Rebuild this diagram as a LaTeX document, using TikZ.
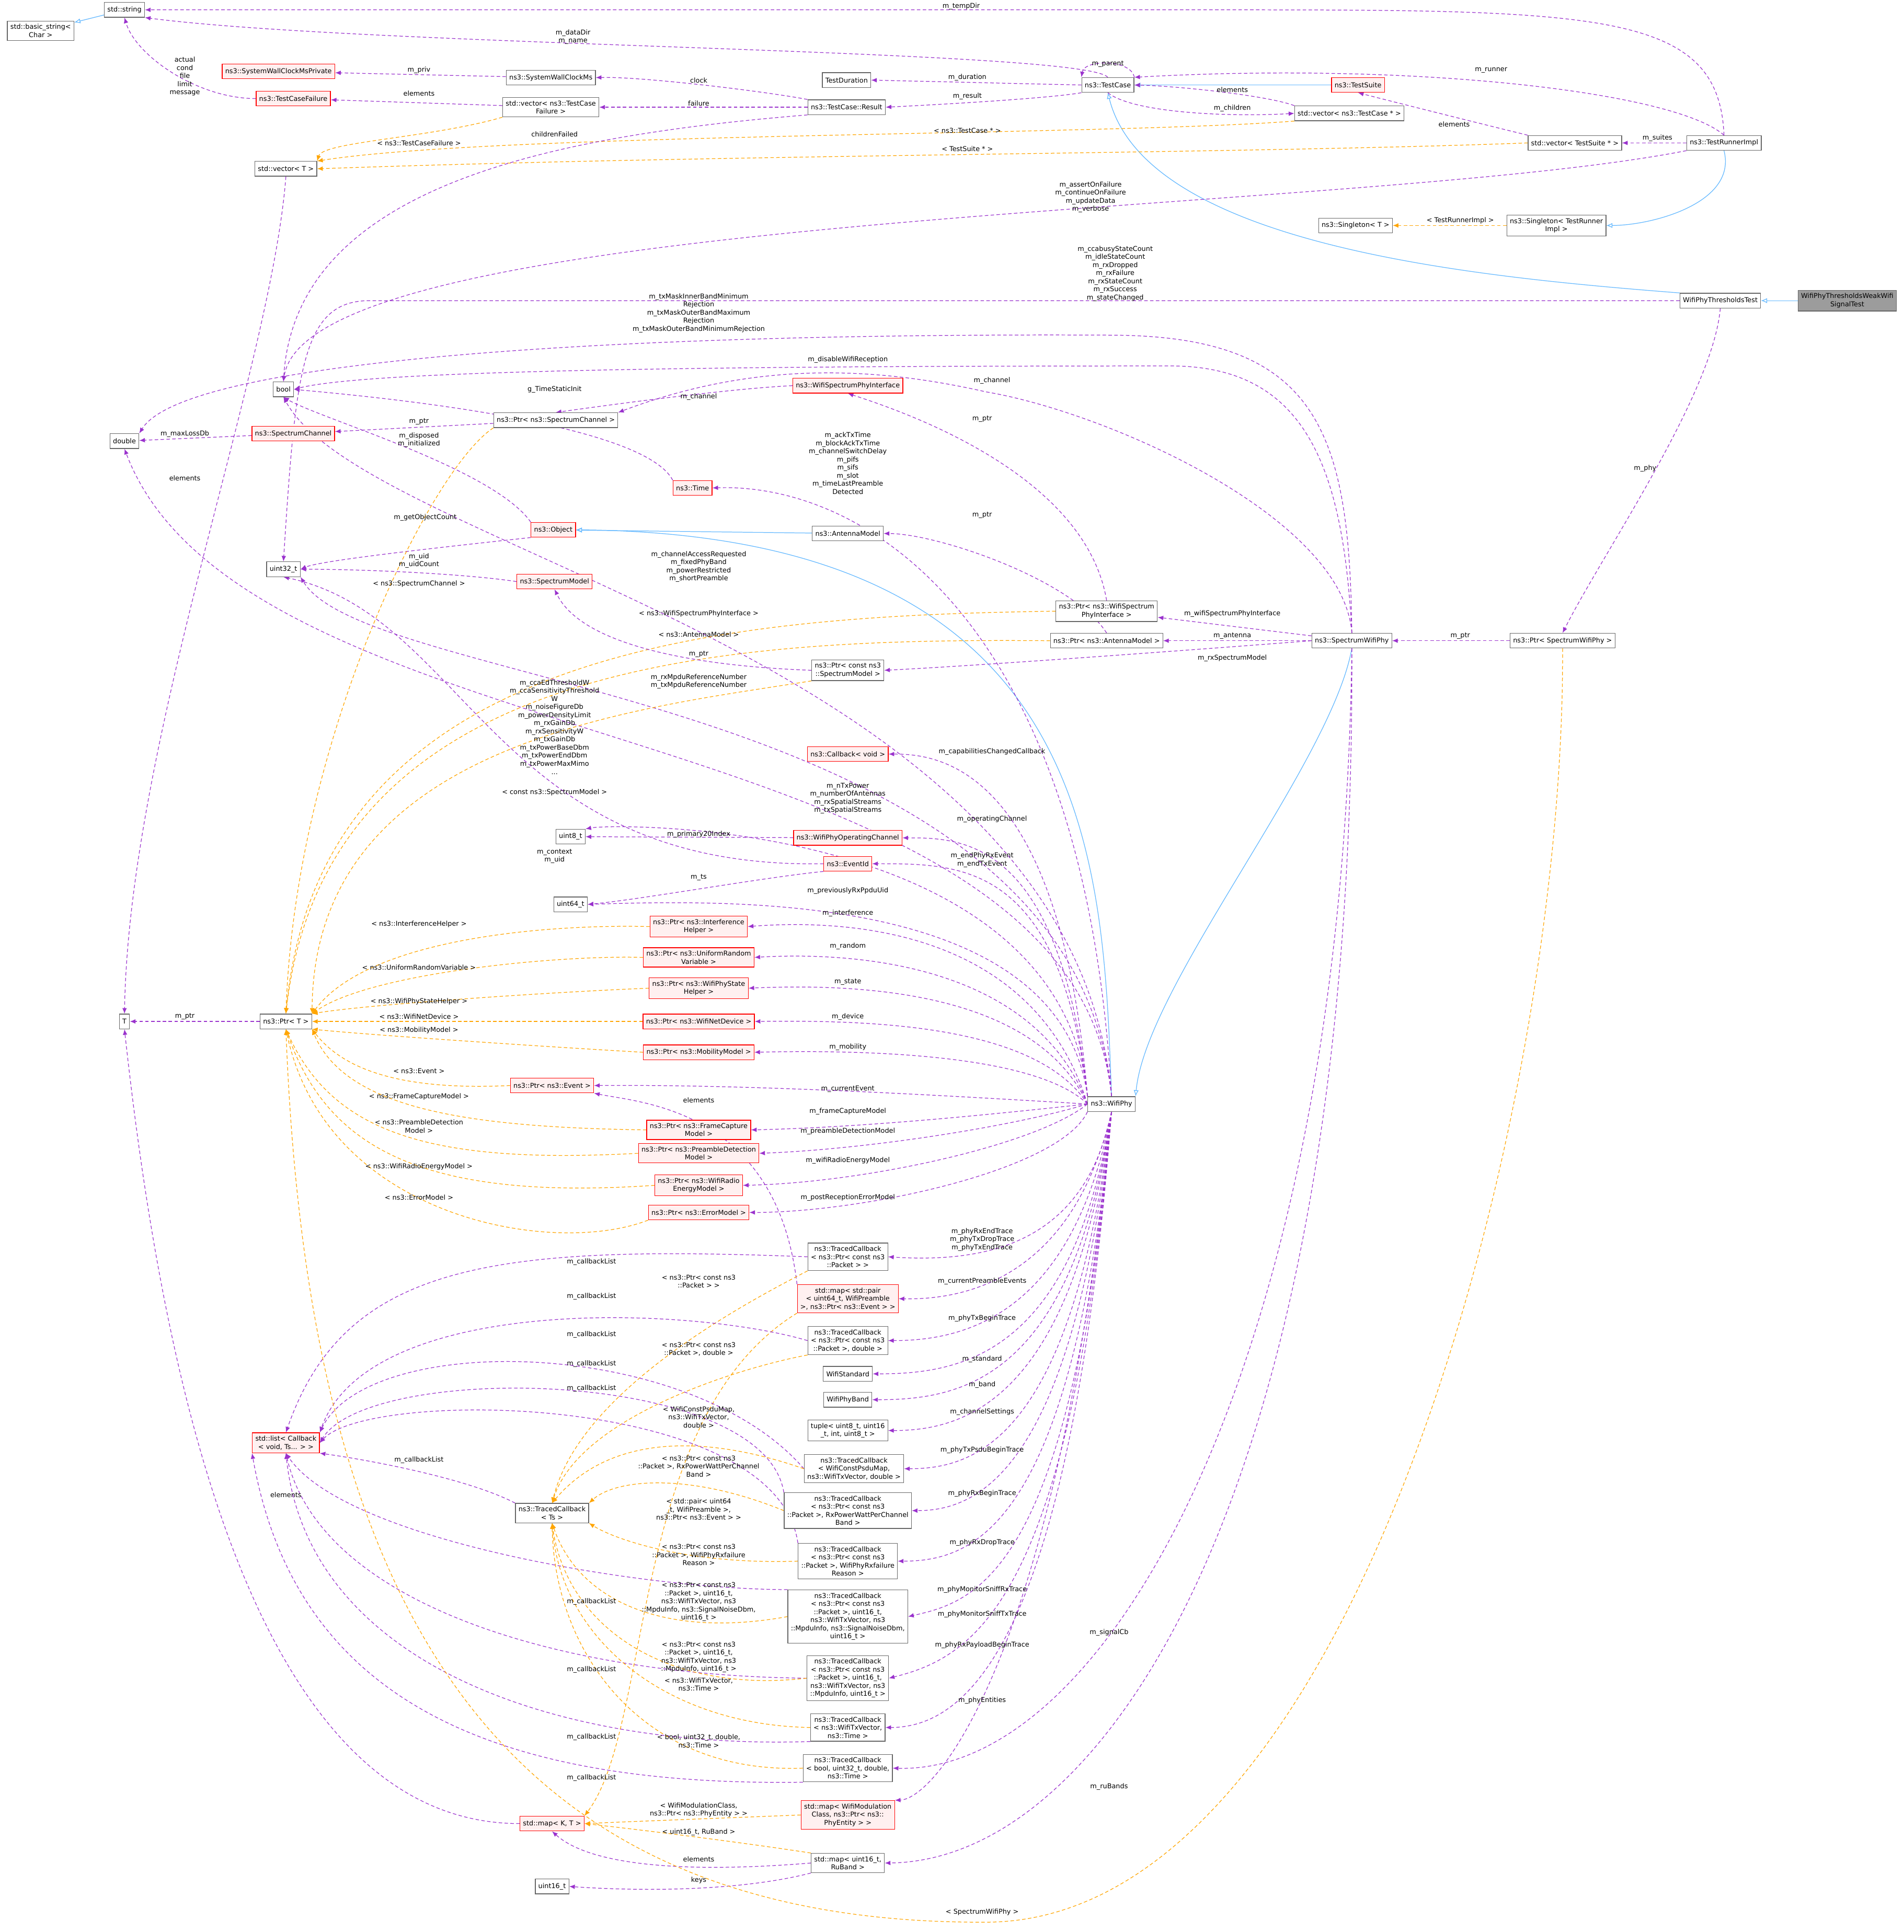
\documentclass[tikz,border=0pt]{standalone}
\usepackage{fontspec}
\setmainfont{DejaVu Sans}
\usetikzlibrary{arrows.meta}
\pgfdeclarelayer{background}
\pgfsetlayers{background,main}
\definecolor{mempurple}{HTML}{9A32CD}
\definecolor{tplorange}{HTML}{FFA500}
\definecolor{inhblue}{HTML}{63B8FF}
\definecolor{boxgray}{HTML}{666666}
\definecolor{redfill}{HTML}{FFF0F0}
\begin{document}
\begin{tikzpicture}[x=0.02cm, y=0.02cm,
    every node/.style={font=\fontsize{3.1}{3.75}\selectfont, align=center},
    cls/.style={draw=boxgray, fill=white, line width=0.3pt, inner sep=1.4pt, minimum height=0.24cm},
    redcls/.style={cls, draw=red, fill=redfill},
    lbl/.style={inner sep=0pt},
    mem/.style={draw=mempurple, line width=0.3pt, dash pattern=on 1.6pt off 1.1pt, -{Latex[length=2.6pt,width=2.1pt]}},
    tpl/.style={draw=tplorange, line width=0.3pt, dash pattern=on 1.6pt off 1.1pt, -{Latex[length=2.6pt,width=2.1pt]}},
    inh/.style={draw=inhblue, line width=0.3pt, -{Latex[open,length=2.8pt,width=2.3pt]}}]
    \useasboundingbox (0,0) rectangle (1545,-1568);

    % Classes, top part
    \node[cls] (basic) at (33,-25) {std::basic\_string<\\Char >};
    \node[cls] (str) at (101,-8) {std::string};
    \node[cls] (tcase) at (899,-69) {ns3::TestCase};
    \node[redcls] (tsuite) at (1102,-69) {ns3::TestSuite};
    \node[cls] (tdur) at (687,-65) {TestDuration};
    \node[cls] (tres) at (687,-87) {ns3::TestCase::Result};
    \node[cls] (swc) at (447,-63) {ns3::SystemWallClockMs};
    \node[redcls] (swcp) at (226,-58) {ns3::SystemWallClockMsPrivate};
    \node[redcls] (tcf) at (238,-80) {ns3::TestCaseFailure};
    \node[cls] (vtcf) at (447,-87) {std::vector< ns3::TestCase\\Failure >};
    \node[cls] (vtc) at (1095,-92) {std::vector< ns3::TestCase * >};
    \node[cls] (vt) at (232,-137) {std::vector< T >};
    \node[cls] (vts) at (1278,-116) {std::vector< TestSuite * >};
    \node[cls] (trimpl) at (1399,-116) {ns3::TestRunnerImpl};
    \node[cls] (sgt) at (1100,-183) {ns3::Singleton< T >};
    \node[cls] (sgtr) at (1263,-183) {ns3::Singleton< TestRunner\\Impl >};
    \node[cls] (thr) at (1396,-244) {WifiPhyThresholdsTest};
    \node[cls, fill=boxgray!65] (weak) at (1499,-244) {WifiPhyThresholdsWeakWifi\\SignalTest};

    % Classes, middle part
    \node[cls] (bool) at (230,-316) {bool};
    \node[cls] (dbl) at (101,-358) {double};
    \node[redcls] (spch) at (238,-352) {ns3::SpectrumChannel};
    \node[cls] (pspch) at (451,-341) {ns3::Ptr< ns3::SpectrumChannel >};
    \node[redcls] (wspi) at (688,-313) {ns3::WifiSpectrumPhyInterface};
    \node[redcls] (time) at (562,-396) {ns3::Time};
    \node[redcls] (obj) at (449,-430) {ns3::Object};
    \node[cls] (ant) at (688,-433) {ns3::AntennaModel};
    \node[cls] (u32) at (230,-462) {uint32\_t};
    \node[redcls] (spm) at (450,-472) {ns3::SpectrumModel};
    \node[cls] (pwspi) at (898,-496) {ns3::Ptr< ns3::WifiSpectrum\\PhyInterface >};
    \node[cls] (pant) at (898,-520) {ns3::Ptr< ns3::AntennaModel >};
    \node[cls] (swp) at (1097,-520) {ns3::SpectrumWifiPhy};
    \node[cls] (pswp) at (1268,-520) {ns3::Ptr< SpectrumWifiPhy >};
    \node[cls] (pcsm) at (688,-544) {ns3::Ptr< const ns3\\::SpectrumModel >};
    \node[redcls] (cbv) at (688,-612) {ns3::Callback< void >};
    \node[cls] (u8) at (463,-679) {uint8\_t};
    \node[redcls] (woc) at (688,-680) {ns3::WifiPhyOperatingChannel};
    \node[redcls] (eid) at (688,-701) {ns3::EventId};
    \node[cls] (u64) at (463,-734) {uint64\_t};
    \node[redcls] (pih) at (567,-752) {ns3::Ptr< ns3::Interference\\Helper >};
    \node[redcls] (pur) at (567,-777) {ns3::Ptr< ns3::UniformRandom\\Variable >};
    \node[redcls] (psh) at (567,-802) {ns3::Ptr< ns3::WifiPhyState\\Helper >};
    \node[redcls] (pnd) at (567,-829) {ns3::Ptr< ns3::WifiNetDevice >};
    \node[redcls] (pmob) at (567,-854) {ns3::Ptr< ns3::MobilityModel >};
    \node[cls] (tT) at (101,-829) {T};
    \node[cls] (ptrT) at (232,-829) {ns3::Ptr< T >};
    \node[redcls] (pev) at (448,-881) {ns3::Ptr< ns3::Event >};
    \node[redcls] (pfc) at (567,-917) {ns3::Ptr< ns3::FrameCapture\\Model >};
    \node[redcls] (ppd) at (567,-936) {ns3::Ptr< ns3::PreambleDetection\\Model >};
    \node[redcls] (pre) at (567,-962) {ns3::Ptr< ns3::WifiRadio\\EnergyModel >};
    \node[redcls] (pem) at (567,-984) {ns3::Ptr< ns3::ErrorModel >};
    \node[cls] (phy) at (902,-896) {ns3::WifiPhy};

    % Classes, lower part
    \node[cls] (tc1) at (688,-1020) {ns3::TracedCallback\\< ns3::Ptr< const ns3\\::Packet > >};
    \node[redcls] (mpair) at (688,-1054) {std::map< std::pair\\< uint64\_t, WifiPreamble\\>, ns3::Ptr< ns3::Event > >};
    \node[cls] (tc2) at (688,-1088) {ns3::TracedCallback\\< ns3::Ptr< const ns3\\::Packet >, double >};
    \node[cls] (wstd) at (688,-1115) {WifiStandard};
    \node[cls] (wband) at (688,-1136) {WifiPhyBand};
    \node[cls] (tup) at (688,-1161) {tuple< uint8\_t, uint16\\\_t, int, uint8\_t >};
    \node[cls] (tc3) at (693,-1192) {ns3::TracedCallback\\< WifiConstPsduMap,\\ns3::WifiTxVector, double >};
    \node[cls] (tc4) at (688,-1226) {ns3::TracedCallback\\< ns3::Ptr< const ns3\\::Packet >, RxPowerWattPerChannel\\Band >};
    \node[cls] (tc5) at (688,-1267) {ns3::TracedCallback\\< ns3::Ptr< const ns3\\::Packet >, WifiPhyRxfailure\\Reason >};
    \node[redcls] (slist) at (232,-1171) {std::list< Callback\\< void, Ts... > >};
    \node[cls] (tcts) at (448,-1228) {ns3::TracedCallback\\< Ts >};
    \node[cls] (tc6) at (688,-1312) {ns3::TracedCallback\\< ns3::Ptr< const ns3\\::Packet >, uint16\_t,\\ns3::WifiTxVector, ns3\\::MpduInfo, ns3::SignalNoiseDbm,\\uint16\_t >};
    \node[cls] (tc7) at (688,-1362) {ns3::TracedCallback\\< ns3::Ptr< const ns3\\::Packet >, uint16\_t,\\ns3::WifiTxVector, ns3\\::MpduInfo, uint16\_t >};
    \node[cls] (tc8) at (688,-1402) {ns3::TracedCallback\\< ns3::WifiTxVector,\\ns3::Time >};
    \node[cls] (tc9) at (688,-1435) {ns3::TracedCallback\\< bool, uint32\_t, double,\\ns3::Time >};
    \node[redcls] (mmod) at (688,-1473) {std::map< WifiModulation\\Class, ns3::Ptr< ns3::\\PhyEntity > >};
    \node[redcls] (mkt) at (448,-1480) {std::map< K, T >};
    \node[cls] (mru) at (688,-1512) {std::map< uint16\_t,\\RuBand >};
    \node[cls] (u16) at (448,-1531) {uint16\_t};

    \begin{pgfonlayer}{background}
    % Inheritance
    \draw[inh] (str) -- (basic);
    \draw[inh] (tsuite) -- (tcase);
    \draw[inh] (weak) -- (thr);
    \draw[inh] (thr.north west) .. controls (1200,-225) and (930,-200) .. (tcase.south);
    \draw[inh] (trimpl.south) .. controls (1410,-165) and (1340,-183) .. (sgtr.east);
    \draw[inh] (ant) -- (obj);
    \draw[inh] (phy.north) .. controls (895,-700) and (890,-434) .. (obj.east);
    \draw[inh] (swp.south) .. controls (1080,-620) and (930,-800) .. (phy.north east);

    % Test framework members
    \draw[mem] (trimpl.north) .. controls (1395,-10) and (1300,-8) .. (1000,-8) -- (str.east);
    \draw[mem] (tcase.north) .. controls (880,-40) and (300,-38) .. (str.south east);
    \draw[mem] (tcase.north east) .. controls (918,-48) and (880,-48) .. (tcase.north west);
    \draw[mem] (tcase.west) -- (tdur.east);
    \draw[mem] (tcase.south west) .. controls (850,-80) and (760,-85) .. (tres.east);
    \draw[mem] (vtc.north west) .. controls (1030,-78) and (960,-70) .. (tcase.east);
    \draw[mem] (tcase.south) .. controls (920,-92) and (1000,-95) .. (vtc.west);
    \draw[mem] (trimpl.north) .. controls (1360,-75) and (1150,-50) .. (tcase.north east);
    \draw[mem] (vts.north west) .. controls (1200,-100) and (1140,-85) .. (tsuite.south);
    \draw[mem] (trimpl) -- (vts);
    \draw[tpl] (sgtr) -- (sgt);
    \draw[mem] (tres.north west) .. controls (620,-74) and (520,-62) .. (swc.east);
    \draw[mem] (swc) -- (swcp);
    \draw[mem] (tres) -- (vtcf);
    \draw[mem] (vtcf) -- (tcf);
    \draw[mem] (tcf.west) .. controls (160,-80) and (110,-45) .. (str.south);
    \draw[tpl] (vtcf.south west) .. controls (350,-112) and (262,-115) .. (vt.north east);
    \draw[tpl] (vtc.south west) .. controls (900,-110) and (400,-108) .. (vt.north east);
    \draw[tpl] (vts.west) .. controls (1000,-125) and (600,-125) .. (vt.east);
    \draw[mem] (tres.south west) .. controls (450,-110) and (240,-150) .. (bool.north);
    \draw[mem] (trimpl.south west) .. controls (1100,-175) and (250,-170) .. (bool.north);
    \draw[mem] (thr.west) -- (300,-244) .. controls (245,-244) and (240,-300) .. (u32.north);
    \draw[mem] (vt.south) .. controls (220,-300) and (105,-600) .. (tT.north);

    % Spectrum and object members
    \draw[mem] (swp.north) .. controls (1095,-350) and (1070,-272) .. (900,-272) .. controls (500,-270) and (150,-292) .. (dbl.north east);
    \draw[mem] (swp.north) .. controls (1090,-380) and (1060,-297) .. (950,-297) .. controls (600,-297) and (300,-300) .. (bool.east);
    \draw[mem] (swp.north) .. controls (1090,-420) and (900,-335) .. (800,-318) .. controls (720,-300) and (620,-290) .. (pspch.north east);
    \draw[mem] (wspi.west) .. controls (600,-315) and (520,-325) .. (pspch.north);
    \draw[mem] (pspch) -- (spch);
    \draw[mem] (spch) -- (dbl);
    \draw[mem] (pwspi.north) .. controls (880,-380) and (720,-330) .. (wspi.south);
    \draw[mem] (time.north west) .. controls (520,-340) and (280,-320) .. (bool.east);
    \draw[mem] (obj.north west) .. controls (400,-380) and (260,-340) .. (bool.south);
    \draw[mem] (obj.south west) .. controls (350,-445) and (260,-455) .. (u32.east);
    \draw[mem] (phy.north) .. controls (880,-500) and (700,-392) .. (time.east);
    \draw[mem] (pant.north) .. controls (870,-470) and (760,-433) .. (ant.east);
    \draw[mem] (spm.west) .. controls (380,-466) and (300,-462) .. (u32.east);
    \draw[tpl] (pspch.south west) .. controls (350,-380) and (240,-600) .. (ptrT.north);
    \draw[mem] (phy.north) .. controls (870,-530) and (300,-450) .. (bool.south);
    \draw[tpl] (pwspi.west) .. controls (600,-500) and (260,-520) .. (ptrT.north);
    \draw[tpl] (pant.west) .. controls (600,-518) and (265,-530) .. (ptrT.north);
    \draw[mem] (pcsm.west) .. controls (550,-540) and (470,-520) .. (spm.south);
    \draw[mem] (swp) -- (pwspi);
    \draw[mem] (swp) -- (pant);
    \draw[mem] (swp.west) .. controls (1000,-525) and (800,-540) .. (pcsm.east);
    \draw[mem] (pswp) -- (swp);
    \draw[mem] (thr.south) .. controls (1390,-320) and (1300,-450) .. (pswp.north);
    \draw[mem] (phy.north) .. controls (870,-560) and (300,-562) .. (u32.south east);
    \draw[mem] (phy.north) .. controls (870,-575) and (200,-625) .. (dbl.south);
    \draw[tpl] (pcsm.south west) .. controls (520,-575) and (255,-600) .. (ptrT.north east);

    % WifiPhy members
    \draw[mem] (phy.north west) .. controls (860,-620) and (760,-612) .. (cbv.east);
    \draw[mem] (phy.north west) .. controls (860,-665) and (500,-668) .. (u8.north east);
    \draw[mem] (phy.north west) .. controls (860,-680) and (780,-680) .. (woc.east);
    \draw[mem] (woc) -- (u8);
    \draw[mem] (eid.west) .. controls (400,-706) and (380,-500) .. (u32.south);
    \draw[mem] (eid.south west) .. controls (620,-712) and (520,-730) .. (u64.east);
    \draw[mem] (phy.north west) .. controls (860,-700) and (780,-701) .. (eid.east);
    \draw[mem] (phy.north west) .. controls (860,-725) and (600,-730) .. (u64.east);
    \draw[mem] (phy.west) .. controls (840,-760) and (700,-745) .. (pih.east);
    \draw[mem] (phy.west) .. controls (840,-785) and (700,-772) .. (pur.east);
    \draw[mem] (phy.west) .. controls (840,-805) and (700,-798) .. (psh.east);
    \draw[mem] (phy.west) .. controls (840,-830) and (700,-828) .. (pnd.east);
    \draw[mem] (phy.west) .. controls (840,-855) and (700,-852) .. (pmob.east);
    \draw[mem] (phy.west) .. controls (780,-890) and (620,-880) .. (pev.east);
    \draw[mem] (phy.west) .. controls (800,-905) and (700,-915) .. (pfc.east);
    \draw[mem] (phy.west) .. controls (820,-915) and (700,-933) .. (ppd.east);
    \draw[mem] (phy.west) .. controls (840,-930) and (700,-960) .. (pre.east);
    \draw[mem] (phy.south west) .. controls (860,-950) and (700,-984) .. (pem.east);

    % Ptr template instances
    \draw[tpl] (pih.west) .. controls (450,-750) and (300,-760) .. (ptrT.north east);
    \draw[tpl] (pur.west) .. controls (450,-775) and (300,-790) .. (ptrT.north east);
    \draw[tpl] (psh.west) .. controls (450,-805) and (300,-815) .. (ptrT.north east);
    \draw[tpl] (pnd) -- (ptrT);
    \draw[tpl] (pmob.west) .. controls (450,-850) and (300,-840) .. (ptrT.south east);
    \draw[tpl] (pev.west) .. controls (330,-885) and (280,-870) .. (ptrT.south east);
    \draw[tpl] (pfc.west) .. controls (380,-915) and (280,-900) .. (ptrT.south east);
    \draw[tpl] (ppd.west) .. controls (350,-945) and (270,-920) .. (ptrT.south);
    \draw[tpl] (pre.west) .. controls (340,-975) and (265,-930) .. (ptrT.south);
    \draw[tpl] (pem.south west) .. controls (450,-1020) and (265,-990) .. (ptrT.south);
    \draw[mem] (ptrT) -- (tT);
    \draw[mem] (mpair.north west) .. controls (630,-900) and (520,-895) .. (pev.south east);

    % Traced callbacks
    \draw[mem] (phy.south) .. controls (880,-1010) and (800,-1025) .. (tc1.east);
    \draw[mem] (tc1.west) .. controls (400,-1010) and (280,-1025) .. (slist.north);
    \draw[tpl] (tc1.south west) .. controls (600,-1060) and (470,-1130) .. (tcts.north);
    \draw[mem] (phy.south) .. controls (870,-1040) and (780,-1055) .. (mpair.east);
    \draw[tpl] (mpair.south west) .. controls (510,-1150) and (530,-1400) .. (mkt.north east);
    \draw[mem] (phy.south) .. controls (870,-1070) and (780,-1088) .. (tc2.east);
    \draw[mem] (tc2.west) .. controls (560,-1060) and (300,-1050) .. (slist.north east);
    \draw[tpl] (tc2.south west) .. controls (600,-1110) and (470,-1150) .. (tcts.north);
    \draw[mem] (phy.south) .. controls (870,-1100) and (780,-1115) .. (wstd.east);
    \draw[mem] (phy.south) .. controls (870,-1120) and (780,-1136) .. (wband.east);
    \draw[mem] (phy.south) .. controls (870,-1140) and (780,-1161) .. (tup.east);
    \draw[mem] (phy.south) .. controls (870,-1170) and (790,-1192) .. (tc3.east);
    \draw[mem] (tc3.west) .. controls (560,-1085) and (300,-1080) .. (slist.north east);
    \draw[tpl] (tc3.west) .. controls (560,-1160) and (490,-1170) .. (tcts.north);
    \draw[mem] (phy.south) .. controls (870,-1200) and (790,-1226) .. (tc4.east);
    \draw[mem] (tc4.north west) .. controls (620,-1110) and (300,-1105) .. (slist.east);
    \draw[tpl] (tc4.west) .. controls (560,-1195) and (500,-1200) .. (tcts.north east);
    \draw[mem] (phy.south) .. controls (870,-1240) and (790,-1267) .. (tc5.east);
    \draw[mem] (tc5.north west) .. controls (630,-1130) and (300,-1127) .. (slist.east);
    \draw[tpl] (tc5.west) .. controls (560,-1270) and (500,-1250) .. (tcts.south east);
    \draw[mem] (tcts.north west) .. controls (380,-1200) and (300,-1185) .. (slist.south east);
    \draw[mem] (phy.south) .. controls (870,-1280) and (790,-1300) .. (tc6.east);
    \draw[mem] (tc6.north west) .. controls (520,-1290) and (280,-1250) .. (slist.south);
    \draw[tpl] (tc6.west) .. controls (540,-1330) and (470,-1300) .. (tcts.south);
    \draw[mem] (phy.south) .. controls (870,-1300) and (790,-1345) .. (tc7.east);
    \draw[mem] (tc7.west) .. controls (450,-1360) and (260,-1300) .. (slist.south);
    \draw[tpl] (tc7.west) .. controls (540,-1375) and (460,-1320) .. (tcts.south);
    \draw[mem] (phy.south) .. controls (870,-1320) and (790,-1402) .. (tc8.east);
    \draw[mem] (tc8.south west) .. controls (450,-1420) and (250,-1350) .. (slist.south);
    \draw[tpl] (tc8.west) .. controls (540,-1400) and (455,-1330) .. (tcts.south);
    \draw[mem] (swp.south) .. controls (1090,-1100) and (900,-1440) .. (tc9.east);
    \draw[mem] (tc9.south west) .. controls (400,-1450) and (240,-1380) .. (slist.south west);
    \draw[tpl] (tc9.west) .. controls (520,-1440) and (450,-1340) .. (tcts.south);

    % Maps
    \draw[mem] (phy.south) .. controls (860,-1340) and (760,-1460) .. (mmod.north east);
    \draw[tpl] (mmod.west) .. controls (600,-1475) and (520,-1478) .. (mkt.east);
    \draw[mem] (swp.south) .. controls (1100,-1200) and (900,-1510) .. (mru.east);
    \draw[tpl] (mru.north west) .. controls (600,-1495) and (520,-1485) .. (mkt.east);
    \draw[mem] (mru.west) .. controls (560,-1520) and (480,-1515) .. (mkt.south);
    \draw[mem] (mru.south west) .. controls (600,-1535) and (520,-1535) .. (u16.east);
    \draw[mem] (mkt.west) .. controls (200,-1480) and (130,-1100) .. (tT.south);
    \draw[tpl] (pswp.south) .. controls (1270,-900) and (1100,-1560) .. (800,-1560) .. controls (400,-1562) and (250,-1300) .. (ptrT.south);
    \end{pgfonlayer}

    % Connector labels
    \node[lbl] (lTmp) at (780,-5) {m\_tempDir};
    \node[lbl] (lDir) at (465,-30) {m\_dataDir\\m\_name};
    \node[lbl] (lPar) at (899,-52) {m\_parent};
    \node[lbl] (lDur) at (785,-63) {m\_duration};
    \node[lbl] (lRes) at (785,-78) {m\_result};
    \node[lbl] (lElC) at (1000,-73) {elements};
    \node[lbl] (lChi) at (1000,-88) {m\_children};
    \node[lbl] (lRun) at (1210,-57) {m\_runner};
    \node[lbl] (lElS) at (1180,-101) {elements};
    \node[lbl] (lSui) at (1345,-112) {m\_suites};
    \node[lbl] (lTri) at (1185,-179) {< TestRunnerImpl >};
    \node[lbl] (lClk) at (567,-65) {clock};
    \node[lbl] (lPriv) at (340,-57) {m\_priv};
    \node[lbl] (lFai) at (567,-84) {failure};
    \node[lbl] (lElF) at (340,-76) {elements};
    \node[lbl] (lAct) at (150,-62) {actual\\cond\\file\\limit\\message};
    \node[lbl] (lTcf) at (340,-116) {< ns3::TestCaseFailure >};
    \node[lbl] (lTcp) at (785,-106) {< ns3::TestCase * >};
    \node[lbl] (lTsp) at (785,-121) {< TestSuite * >};
    \node[lbl] (lChF) at (450,-109) {childrenFailed};
    \node[lbl] (lAss) at (885,-160) {m\_assertOnFailure\\m\_continueOnFailure\\m\_updateData\\m\_verbose};
    \node[lbl] (lCca) at (905,-222) {m\_ccabusyStateCount\\m\_idleStateCount\\m\_rxDropped\\m\_rxFailure\\m\_rxStateCount\\m\_rxSuccess\\m\_stateChanged};
    \node[lbl] (lElT) at (150,-388) {elements};
    \node[lbl] (lMask) at (567,-254) {m\_txMaskInnerBandMinimum\\Rejection\\m\_txMaskOuterBandMaximum\\Rejection\\m\_txMaskOuterBandMinimumRejection};
    \node[lbl] (lDis) at (688,-292) {m\_disableWifiReception};
    \node[lbl] (lChS) at (805,-309) {m\_channel};
    \node[lbl] (lChW) at (567,-322) {m\_channel};
    \node[lbl] (lPtrC) at (340,-342) {m\_ptr};
    \node[lbl] (lLoss) at (150,-352) {m\_maxLossDb};
    \node[lbl] (lPtrW) at (797,-340) {m\_ptr};
    \node[lbl] (lInit) at (450,-316) {g\_TimeStaticInit};
    \node[lbl] (lDsp) at (340,-357) {m\_disposed\\m\_initialized};
    \node[lbl] (lGoc) at (345,-420) {m\_getObjectCount};
    \node[lbl] (lAck) at (688,-376) {m\_ackTxTime\\m\_blockAckTxTime\\m\_channelSwitchDelay\\m\_pifs\\m\_sifs\\m\_slot\\m\_timeLastPreamble\\Detected};
    \node[lbl] (lPtrA) at (797,-418) {m\_ptr};
    \node[lbl] (lUid) at (340,-455) {m\_uid\\m\_uidCount};
    \node[lbl] (lSch) at (340,-474) {< ns3::SpectrumChannel >};
    \node[lbl] (lAcc) at (567,-460) {m\_channelAccessRequested\\m\_fixedPhyBand\\m\_powerRestricted\\m\_shortPreamble};
    \node[lbl] (lWsp) at (567,-498) {< ns3::WifiSpectrumPhyInterface >};
    \node[lbl] (lAnt) at (567,-515) {< ns3::AntennaModel >};
    \node[lbl] (lPtrM) at (567,-531) {m\_ptr};
    \node[lbl] (lWspi) at (1000,-498) {m\_wifiSpectrumPhyInterface};
    \node[lbl] (lAnte) at (1000,-516) {m\_antenna};
    \node[lbl] (lRxSm) at (1000,-534) {m\_rxSpectrumModel};
    \node[lbl] (lPtrS) at (1185,-516) {m\_ptr};
    \node[lbl] (lPhy) at (1335,-380) {m\_phy};
    \node[lbl] (lMpdu) at (567,-553) {m\_rxMpduReferenceNumber\\m\_txMpduReferenceNumber};
    \node[lbl] (lCcaT) at (450,-590) {m\_ccaEdThresholdW\\m\_ccaSensitivityThreshold\\W\\m\_noiseFigureDb\\m\_powerDensityLimit\\m\_rxGainDb\\m\_rxSensitivityW\\m\_txGainDb\\m\_txPowerBaseDbm\\m\_txPowerEndDbm\\m\_txPowerMaxMimo\\...};
    \node[lbl] (lCsm) at (450,-643) {< const ns3::SpectrumModel >};
    \node[lbl] (lCap) at (805,-610) {m\_capabilitiesChangedCallback};
    \node[lbl] (lNtx) at (688,-648) {m\_nTxPower\\m\_numberOfAntennas\\m\_rxSpatialStreams\\m\_txSpatialStreams};
    \node[lbl] (lOpc) at (805,-665) {m\_operatingChannel};
    \node[lbl] (lP20) at (567,-677) {m\_primary20Index};
    \node[lbl] (lCtx) at (450,-695) {m\_context\\m\_uid};
    \node[lbl] (lTs) at (567,-712) {m\_ts};
    \node[lbl] (lEnd) at (797,-698) {m\_endPhyRxEvent\\m\_endTxEvent};
    \node[lbl] (lPrev) at (688,-723) {m\_previouslyRxPpduUid};
    \node[lbl] (lInt) at (688,-741) {m\_interference};
    \node[lbl] (lRnd) at (688,-768) {m\_random};
    \node[lbl] (lSta) at (688,-797) {m\_state};
    \node[lbl] (lDev) at (688,-825) {m\_device};
    \node[lbl] (lMob) at (688,-850) {m\_mobility};
    \node[lbl] (lCev) at (688,-884) {m\_currentEvent};
    \node[lbl] (lFcm) at (688,-902) {m\_frameCaptureModel};
    \node[lbl] (lPdm) at (688,-918) {m\_preambleDetectionModel};
    \node[lbl] (lRem) at (688,-942) {m\_wifiRadioEnergyModel};
    \node[lbl] (lPem) at (688,-972) {m\_postReceptionErrorModel};
    \node[lbl] (lIh) at (340,-750) {< ns3::InterferenceHelper >};
    \node[lbl] (lUr) at (340,-785) {< ns3::UniformRandomVariable >};
    \node[lbl] (lSh) at (340,-813) {< ns3::WifiPhyStateHelper >};
    \node[lbl] (lNd) at (340,-825) {< ns3::WifiNetDevice >};
    \node[lbl] (lMm) at (340,-836) {< ns3::MobilityModel >};
    \node[lbl] (lEv) at (340,-869) {< ns3::Event >};
    \node[lbl] (lFc) at (340,-890) {< ns3::FrameCaptureModel >};
    \node[lbl] (lPd) at (340,-914) {< ns3::PreambleDetection\\Model >};
    \node[lbl] (lRe) at (340,-947) {< ns3::WifiRadioEnergyModel >};
    \node[lbl] (lEm) at (340,-972) {< ns3::ErrorModel >};
    \node[lbl] (lPtrT) at (150,-825) {m\_ptr};
    \node[lbl] (lElE) at (567,-893) {elements};
    \node[lbl] (lRxE) at (797,-1006) {m\_phyRxEndTrace\\m\_phyTxDropTrace\\m\_phyTxEndTrace};
    \node[lbl] (lCb1) at (480,-1024) {m\_callbackList};
    \node[lbl] (lT1) at (567,-1040) {< ns3::Ptr< const ns3\\::Packet > >};
    \node[lbl] (lCpe) at (797,-1040) {m\_currentPreambleEvents};
    \node[lbl] (lPair) at (567,-1225) {< std::pair< uint64\\\_t, WifiPreamble >,\\ns3::Ptr< ns3::Event > >};
    \node[lbl] (lTxB) at (797,-1070) {m\_phyTxBeginTrace};
    \node[lbl] (lCb2) at (480,-1052) {m\_callbackList};
    \node[lbl] (lT2) at (567,-1095) {< ns3::Ptr< const ns3\\::Packet >, double >};
    \node[lbl] (lStd) at (797,-1103) {m\_standard};
    \node[lbl] (lBand) at (797,-1124) {m\_band};
    \node[lbl] (lSet) at (797,-1146) {m\_channelSettings};
    \node[lbl] (lPsdu) at (797,-1177) {m\_phyTxPsduBeginTrace};
    \node[lbl] (lCb3) at (480,-1083) {m\_callbackList};
    \node[lbl] (lT3) at (567,-1150) {< WifiConstPsduMap,\\ns3::WifiTxVector,\\double >};
    \node[lbl] (lRxB) at (797,-1212) {m\_phyRxBeginTrace};
    \node[lbl] (lCb4) at (480,-1107) {m\_callbackList};
    \node[lbl] (lT4) at (567,-1190) {< ns3::Ptr< const ns3\\::Packet >, RxPowerWattPerChannel\\Band >};
    \node[lbl] (lDrop) at (797,-1252) {m\_phyRxDropTrace};
    \node[lbl] (lCb5) at (480,-1127) {m\_callbackList};
    \node[lbl] (lT5) at (567,-1262) {< ns3::Ptr< const ns3\\::Packet >, WifiPhyRxfailure\\Reason >};
    \node[lbl] (lCbT) at (340,-1185) {m\_callbackList};
    \node[lbl] (lSrx) at (797,-1290) {m\_phyMonitorSniffRxTrace};
    \node[lbl] (lCb6) at (480,-1300) {m\_callbackList};
    \node[lbl] (lT6) at (567,-1300) {< ns3::Ptr< const ns3\\::Packet >, uint16\_t,\\ns3::WifiTxVector, ns3\\::MpduInfo, ns3::SignalNoiseDbm,\\uint16\_t >};
    \node[lbl] (lStx) at (797,-1310) {m\_phyMonitorSniffTxTrace};
    \node[lbl] (lCb7) at (480,-1355) {m\_callbackList};
    \node[lbl] (lT7) at (567,-1345) {< ns3::Ptr< const ns3\\::Packet >, uint16\_t,\\ns3::WifiTxVector, ns3\\::MpduInfo, uint16\_t >};
    \node[lbl] (lPay) at (797,-1335) {m\_phyRxPayloadBeginTrace};
    \node[lbl] (lCb8) at (480,-1410) {m\_callbackList};
    \node[lbl] (lT8) at (567,-1367) {< ns3::WifiTxVector,\\ns3::Time >};
    \node[lbl] (lSig) at (900,-1325) {m\_signalCb};
    \node[lbl] (lCb9) at (480,-1443) {m\_callbackList};
    \node[lbl] (lT9) at (567,-1413) {< bool, uint32\_t, double,\\ns3::Time >};
    \node[lbl] (lEnt) at (797,-1380) {m\_phyEntities};
    \node[lbl] (lMod) at (567,-1469) {< WifiModulationClass,\\ns3::Ptr< ns3::PhyEntity > >};
    \node[lbl] (lRu) at (900,-1450) {m\_ruBands};
    \node[lbl] (lRuB) at (567,-1487) {< uint16\_t, RuBand >};
    \node[lbl] (lElR) at (567,-1509) {elements};
    \node[lbl] (lKey) at (567,-1526) {keys};
    \node[lbl] (lElK) at (232,-1213) {elements};
    \node[lbl] (lSwp) at (797,-1552) {< SpectrumWifiPhy >};
\end{tikzpicture}
\end{document}
